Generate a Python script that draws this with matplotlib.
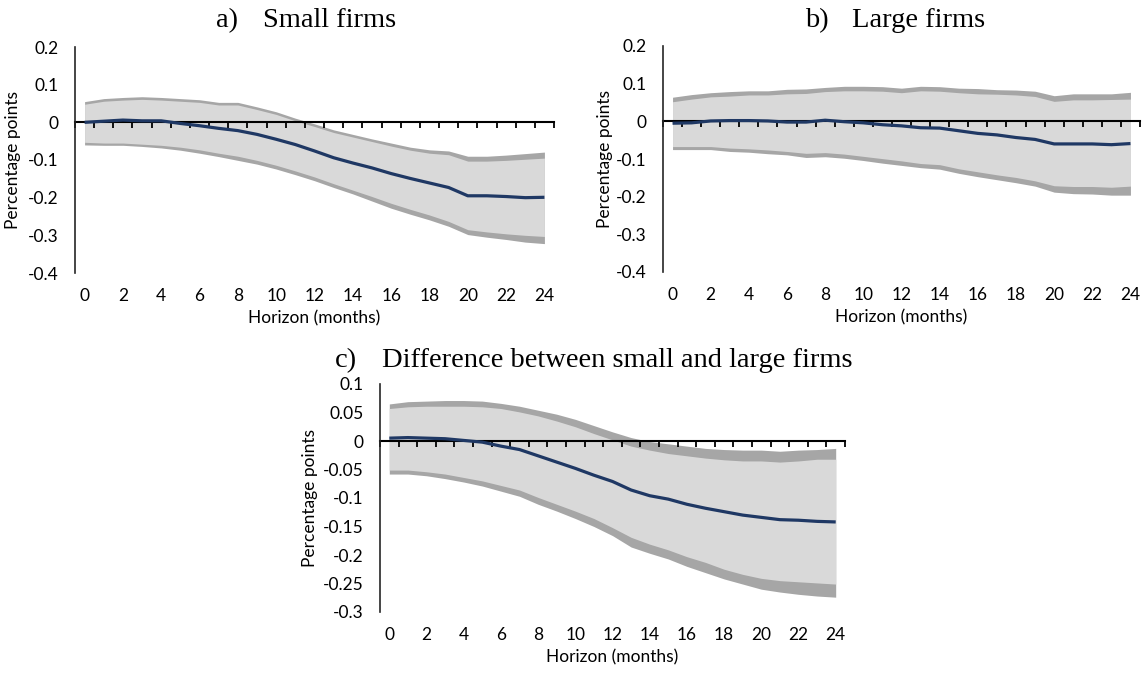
import numpy as np
import matplotlib
matplotlib.use("Agg")
import matplotlib.pyplot as plt

plt.rcParams["font.family"] = ["Lato", "DejaVu Sans"]
plt.rcParams["axes.unicode_minus"] = False

# --- Data ---
months = np.arange(0, 25)

# a) Small firms
small_mid = [0.000, 0.003, 0.006, 0.004, 0.004, -0.003, -0.009, -0.016, -0.022, -0.032,
             -0.045, -0.059, -0.076, -0.094, -0.108, -0.121, -0.136, -0.149, -0.161, -0.173,
             -0.195, -0.195, -0.197, -0.200, -0.199]
small_up_out = [0.055, 0.063, 0.066, 0.068, 0.066, 0.063, 0.060, 0.053, 0.053, 0.041,
                0.028, 0.011, -0.004, -0.020, -0.032, -0.044, -0.055, -0.066, -0.073, -0.076,
                -0.090, -0.090, -0.087, -0.083, -0.079]
small_up_in = [0.048, 0.056, 0.059, 0.061, 0.059, 0.056, 0.053, 0.046, 0.046, 0.034,
               0.021, 0.004, -0.011, -0.027, -0.039, -0.051, -0.063, -0.074, -0.082, -0.086,
               -0.103, -0.103, -0.101, -0.098, -0.095]
small_lo_in = [-0.053, -0.055, -0.055, -0.058, -0.061, -0.066, -0.073, -0.082, -0.090, -0.101,
               -0.114, -0.129, -0.145, -0.163, -0.180, -0.197, -0.215, -0.231, -0.246, -0.263,
               -0.285, -0.291, -0.296, -0.300, -0.303]
small_lo_out = [-0.060, -0.061, -0.061, -0.064, -0.068, -0.074, -0.082, -0.091, -0.101, -0.111,
                -0.124, -0.139, -0.155, -0.173, -0.190, -0.209, -0.228, -0.244, -0.259, -0.276,
                -0.298, -0.305, -0.311, -0.318, -0.322]

# b) Large firms
large_mid = [-0.005, -0.004, 0.001, 0.002, 0.002, 0.001, -0.002, -0.002, 0.003, -0.001,
             -0.004, -0.009, -0.012, -0.017, -0.018, -0.025, -0.032, -0.036, -0.043, -0.048,
             -0.060, -0.060, -0.060, -0.062, -0.059]
large_up_out = [0.064, 0.071, 0.076, 0.079, 0.081, 0.081, 0.085, 0.086, 0.090, 0.093,
                0.093, 0.092, 0.088, 0.093, 0.092, 0.088, 0.087, 0.084, 0.083, 0.080,
                0.068, 0.073, 0.073, 0.073, 0.077]
large_up_in = [0.052, 0.059, 0.065, 0.067, 0.070, 0.070, 0.073, 0.074, 0.079, 0.081,
               0.081, 0.080, 0.076, 0.081, 0.080, 0.076, 0.073, 0.072, 0.070, 0.066,
               0.053, 0.057, 0.057, 0.058, 0.059]
large_lo_in = [-0.067, -0.067, -0.067, -0.071, -0.073, -0.076, -0.080, -0.085, -0.083, -0.087,
               -0.093, -0.099, -0.105, -0.112, -0.115, -0.126, -0.134, -0.142, -0.149, -0.158,
               -0.171, -0.173, -0.173, -0.175, -0.172]
large_lo_out = [-0.075, -0.075, -0.075, -0.080, -0.082, -0.086, -0.089, -0.096, -0.094, -0.098,
                -0.104, -0.111, -0.117, -0.123, -0.127, -0.138, -0.147, -0.155, -0.163, -0.172,
                -0.188, -0.192, -0.193, -0.196, -0.196]

# c) Difference between small and large firms
diff_mid = [0.005, 0.006, 0.005, 0.004, 0.001, -0.002, -0.009, -0.015, -0.026, -0.037,
            -0.048, -0.060, -0.071, -0.086, -0.096, -0.102, -0.111, -0.118, -0.124, -0.130,
            -0.134, -0.138, -0.139, -0.141, -0.142]
diff_up_out = [0.065, 0.069, 0.070, 0.071, 0.071, 0.070, 0.066, 0.061, 0.054, 0.047,
               0.038, 0.027, 0.016, 0.006, -0.001, -0.005, -0.009, -0.013, -0.015, -0.016,
               -0.016, -0.018, -0.016, -0.015, -0.013]
diff_up_in = [0.057, 0.060, 0.061, 0.061, 0.061, 0.060, 0.057, 0.051, 0.044, 0.035,
              0.025, 0.013, 0.002, -0.009, -0.016, -0.022, -0.026, -0.030, -0.033, -0.035,
              -0.035, -0.037, -0.035, -0.032, -0.032]
diff_lo_in = [-0.051, -0.051, -0.054, -0.058, -0.064, -0.070, -0.078, -0.086, -0.099, -0.111,
              -0.123, -0.136, -0.152, -0.169, -0.181, -0.191, -0.203, -0.213, -0.225, -0.234,
              -0.241, -0.245, -0.247, -0.249, -0.251]
diff_lo_out = [-0.058, -0.058, -0.061, -0.066, -0.072, -0.079, -0.088, -0.097, -0.111, -0.123,
               -0.136, -0.150, -0.166, -0.186, -0.197, -0.207, -0.220, -0.231, -0.242, -0.251,
               -0.260, -0.265, -0.269, -0.272, -0.274]

small_ticks = [0.2, 0.1, 0, -0.1, -0.2, -0.3, -0.4]
diff_ticks = [0.1, 0.05, 0, -0.05, -0.1, -0.15, -0.2, -0.25, -0.3]

NAVY = "#1f3864"
DARK = "#a6a6a6"
LIGHT = "#d9d9d9"
FS = 12.5


def draw_panel(ax, mid, up_out, up_in, lo_in, lo_out, yticks, ylab_x):
    ax.fill_between(months, lo_out, up_out, color=DARK, lw=0)
    ax.fill_between(months, lo_in, up_in, color=LIGHT, lw=0)
    ax.plot(months, mid, color=NAVY, lw=2.3, solid_capstyle="butt")

    ax.set_xlim(-0.5, 24.5)
    ax.set_ylim(min(yticks), max(yticks))
    ax.set_yticks(yticks)
    ax.set_yticklabels([f"{v:g}" for v in yticks])
    ax.tick_params(axis="y", length=0, pad=12, labelsize=FS)
    ax.set_ylabel("Percentage points", fontsize=FS)
    ax.yaxis.set_label_coords(ylab_x, 0.5)

    for s in ["top", "right"]:
        ax.spines[s].set_visible(False)
    ax.spines["left"].set_color("#262626")
    ax.spines["left"].set_linewidth(1.2)

    # category axis drawn through zero, ticks between categories
    ax.spines["bottom"].set_position(("data", 0))
    ax.spines["bottom"].set_linewidth(1.5)
    ax.spines["bottom"].set_zorder(1)
    ax.set_xticks(np.arange(-0.5, 25, 1))
    ax.tick_params(axis="x", direction="out", length=4, width=1.3, labelbottom=False)

    # labels sit below the plot area
    lab = ax.secondary_xaxis("bottom")
    lab.set_xticks(np.arange(0, 25, 2))
    lab.tick_params(length=0, pad=11, labelsize=FS)
    lab.spines["bottom"].set_visible(False)
    lab.set_xlabel("Horizon (months)", fontsize=FS, labelpad=4)


fig = plt.figure(figsize=(11.42, 6.73), dpi=100)
W, H = 1142, 673


def add_ax(left, top, right, bottom):
    return fig.add_axes([left / W, 1 - bottom / H, (right - left) / W, (bottom - top) / H])


ax_a = add_ax(75, 47, 554, 273)
ax_b = add_ax(663, 46, 1140, 272)
ax_c = add_ax(380, 384, 845, 612)

draw_panel(ax_a, small_mid, small_up_out, small_up_in, small_lo_in, small_lo_out,
           small_ticks, -0.113)
draw_panel(ax_b, large_mid, large_up_out, large_up_in, large_lo_in, large_lo_out,
           small_ticks, -0.105)
draw_panel(ax_c, diff_mid, diff_up_out, diff_up_in, diff_lo_in, diff_lo_out,
           diff_ticks, -0.133)

title_kw = dict(family=["Liberation Serif", "DejaVu Serif"], fontsize=20.5, va="baseline", ha="left")
fig.text(216 / W, 1 - 27 / H, "a)", **title_kw)
fig.text(263 / W, 1 - 27 / H, "Small firms", **title_kw)
fig.text(805 / W, 1 - 27 / H, "b)", **title_kw)
fig.text(852 / W, 1 - 27 / H, "Large firms", **title_kw)
fig.text(335 / W, 1 - 367 / H, "c)", **title_kw)
fig.text(382 / W, 1 - 367 / H, "Difference between small and large firms", **title_kw)

fig.savefig("out.png", dpi=100)
